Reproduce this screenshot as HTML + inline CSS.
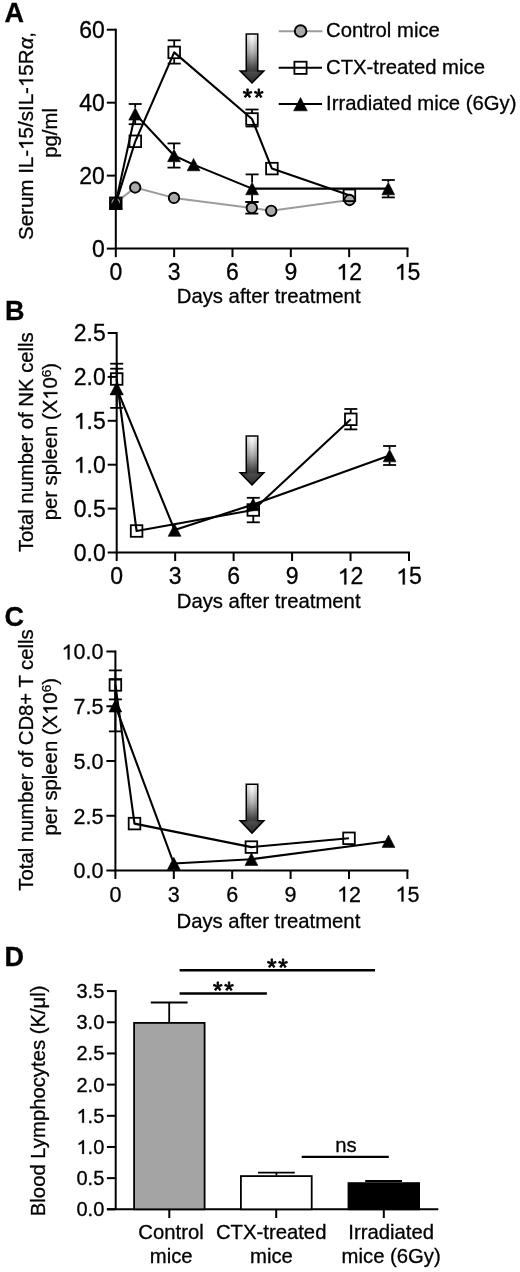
<!DOCTYPE html><html><head><meta charset="utf-8"><style>html,body{margin:0;padding:0;background:#fff;}svg{display:block;filter:blur(0.35px);}</style></head><body>
<svg width="520" height="1272" viewBox="0 0 520 1272" font-family='"Liberation Sans", sans-serif' fill="#000" stroke-width="0"><style>text{stroke:#000;stroke-width:0.3px;}</style>
<defs><linearGradient id="ag" x1="0" y1="0" x2="0" y2="1"><stop offset="0" stop-color="#ffffff"/><stop offset="0.1" stop-color="#f6f6f6"/><stop offset="0.38" stop-color="#b4b4b4"/><stop offset="0.7" stop-color="#4a4a4a"/><stop offset="1" stop-color="#151515"/></linearGradient><linearGradient id="ah" x1="0" y1="0" x2="1" y2="0"><stop offset="0" stop-color="#000" stop-opacity="0.16"/><stop offset="0.5" stop-color="#000" stop-opacity="0"/><stop offset="1" stop-color="#000" stop-opacity="0.16"/></linearGradient><linearGradient id="ah2" x1="0" y1="0" x2="1" y2="0"><stop offset="0" stop-color="#000" stop-opacity="0.25"/><stop offset="0.5" stop-color="#fff" stop-opacity="0.08"/><stop offset="1" stop-color="#000" stop-opacity="0.25"/></linearGradient></defs>
<rect width="520" height="1272" fill="#fff"/>
<text x="4.50" y="22.30" font-size="27" text-anchor="start" font-weight="bold" >A</text>
<line x1="115.80" y1="28.70" x2="115.80" y2="257.10" stroke="#000" stroke-width="2.0" stroke-linecap="butt"/>
<line x1="114.80" y1="248.60" x2="408.50" y2="248.60" stroke="#000" stroke-width="2.0" stroke-linecap="butt"/>
<line x1="106.80" y1="248.60" x2="115.80" y2="248.60" stroke="#000" stroke-width="2.0" stroke-linecap="butt"/>
<text x="104.80" y="256.65" font-size="23" text-anchor="end" font-weight="normal" >0</text>
<line x1="106.80" y1="175.63" x2="115.80" y2="175.63" stroke="#000" stroke-width="2.0" stroke-linecap="butt"/>
<text x="104.80" y="183.68" font-size="23" text-anchor="end" font-weight="normal" >20</text>
<line x1="106.80" y1="102.67" x2="115.80" y2="102.67" stroke="#000" stroke-width="2.0" stroke-linecap="butt"/>
<text x="104.80" y="110.72" font-size="23" text-anchor="end" font-weight="normal" >40</text>
<line x1="106.80" y1="29.70" x2="115.80" y2="29.70" stroke="#000" stroke-width="2.0" stroke-linecap="butt"/>
<text x="104.80" y="37.75" font-size="23" text-anchor="end" font-weight="normal" >60</text>
<text x="115.80" y="279.80" font-size="23" text-anchor="middle" font-weight="normal" >0</text>
<line x1="174.14" y1="248.60" x2="174.14" y2="257.10" stroke="#000" stroke-width="2.0" stroke-linecap="butt"/>
<text x="174.14" y="279.80" font-size="23" text-anchor="middle" font-weight="normal" >3</text>
<line x1="232.48" y1="248.60" x2="232.48" y2="257.10" stroke="#000" stroke-width="2.0" stroke-linecap="butt"/>
<text x="232.48" y="279.80" font-size="23" text-anchor="middle" font-weight="normal" >6</text>
<line x1="290.82" y1="248.60" x2="290.82" y2="257.10" stroke="#000" stroke-width="2.0" stroke-linecap="butt"/>
<text x="290.82" y="279.80" font-size="23" text-anchor="middle" font-weight="normal" >9</text>
<line x1="349.16" y1="248.60" x2="349.16" y2="257.10" stroke="#000" stroke-width="2.0" stroke-linecap="butt"/>
<text id="t0" x="349.16" y="279.80" font-size="23" text-anchor="middle" font-weight="normal" > 2</text>
<line x1="407.50" y1="248.60" x2="407.50" y2="257.10" stroke="#000" stroke-width="2.0" stroke-linecap="butt"/>
<text id="t1" x="407.50" y="279.80" font-size="23" text-anchor="middle" font-weight="normal" > 5</text>
<text x="268.65" y="302.60" font-size="20.3" text-anchor="middle" font-weight="normal" >Days after treatment</text>
<text id="t2" transform="translate(33.1,136.0) rotate(-90)" x="0.00" y="0.00" font-size="20.55" text-anchor="middle" font-weight="normal" >Serum IL- 5/sIL- 5R<tspan font-style="italic">&#945;</tspan>,</text>
<text transform="translate(56.6,132.9) rotate(-90)" x="0.00" y="0.00" font-size="20.3" text-anchor="middle" font-weight="normal" >pg/ml</text>
<polyline points="115.80,202.60 135.20,187.50 174.00,197.90 251.80,207.90 271.20,210.80 349.60,200.00" fill="none" stroke="#9c9c9c" stroke-width="2.0" stroke-linejoin="round"/>
<polyline points="115.80,203.30 135.30,141.30 174.20,52.40 252.00,119.00 271.90,168.60 349.40,195.30" fill="none" stroke="#000" stroke-width="2.1" stroke-linejoin="round"/>
<polyline points="115.80,202.60 135.20,113.90 174.00,155.50 193.60,164.60 252.10,188.60 388.30,188.60" fill="none" stroke="#000" stroke-width="2.1" stroke-linejoin="round"/>
<line x1="251.80" y1="201.90" x2="251.80" y2="202.70" stroke="#000" stroke-width="1.8" stroke-linecap="butt"/>
<line x1="251.80" y1="213.10" x2="251.80" y2="213.60" stroke="#000" stroke-width="1.8" stroke-linecap="butt"/>
<line x1="245.30" y1="201.90" x2="258.30" y2="201.90" stroke="#000" stroke-width="1.8" stroke-linecap="butt"/>
<line x1="245.30" y1="213.60" x2="258.30" y2="213.60" stroke="#000" stroke-width="1.8" stroke-linecap="butt"/>
<circle cx="115.80" cy="202.60" r="5.2" fill="#a9a9a9" stroke="#000" stroke-width="1.9"/>
<circle cx="135.20" cy="187.50" r="5.2" fill="#a9a9a9" stroke="#000" stroke-width="1.9"/>
<circle cx="174.00" cy="197.90" r="5.2" fill="#a9a9a9" stroke="#000" stroke-width="1.9"/>
<circle cx="251.80" cy="207.90" r="5.2" fill="#a9a9a9" stroke="#000" stroke-width="1.9"/>
<circle cx="271.20" cy="210.80" r="5.2" fill="#a9a9a9" stroke="#000" stroke-width="1.9"/>
<circle cx="349.60" cy="200.00" r="5.2" fill="#a9a9a9" stroke="#000" stroke-width="1.9"/>
<line x1="174.20" y1="40.30" x2="174.20" y2="46.60" stroke="#000" stroke-width="1.8" stroke-linecap="butt"/>
<line x1="174.20" y1="58.20" x2="174.20" y2="63.60" stroke="#000" stroke-width="1.8" stroke-linecap="butt"/>
<line x1="167.70" y1="40.30" x2="180.70" y2="40.30" stroke="#000" stroke-width="1.8" stroke-linecap="butt"/>
<line x1="167.70" y1="63.60" x2="180.70" y2="63.60" stroke="#000" stroke-width="1.8" stroke-linecap="butt"/>
<line x1="252.00" y1="109.50" x2="252.00" y2="113.20" stroke="#000" stroke-width="1.8" stroke-linecap="butt"/>
<line x1="252.00" y1="124.80" x2="252.00" y2="126.50" stroke="#000" stroke-width="1.8" stroke-linecap="butt"/>
<line x1="245.50" y1="109.50" x2="258.50" y2="109.50" stroke="#000" stroke-width="1.8" stroke-linecap="butt"/>
<line x1="245.50" y1="126.50" x2="258.50" y2="126.50" stroke="#000" stroke-width="1.8" stroke-linecap="butt"/>
<rect x="110.00" y="197.50" width="11.6" height="11.6" fill="none" stroke="#000" stroke-width="1.8"/>
<rect x="129.50" y="135.50" width="11.6" height="11.6" fill="none" stroke="#000" stroke-width="1.8"/>
<rect x="168.40" y="46.60" width="11.6" height="11.6" fill="none" stroke="#000" stroke-width="1.8"/>
<rect x="246.20" y="113.20" width="11.6" height="11.6" fill="none" stroke="#000" stroke-width="1.8"/>
<rect x="266.10" y="162.80" width="11.6" height="11.6" fill="none" stroke="#000" stroke-width="1.8"/>
<rect x="343.60" y="189.50" width="11.6" height="11.6" fill="none" stroke="#000" stroke-width="1.8"/>
<line x1="135.20" y1="104.00" x2="135.20" y2="107.70" stroke="#000" stroke-width="1.8" stroke-linecap="butt"/>
<line x1="135.20" y1="120.10" x2="135.20" y2="124.20" stroke="#000" stroke-width="1.8" stroke-linecap="butt"/>
<line x1="128.70" y1="104.00" x2="141.70" y2="104.00" stroke="#000" stroke-width="1.8" stroke-linecap="butt"/>
<line x1="128.70" y1="124.20" x2="141.70" y2="124.20" stroke="#000" stroke-width="1.8" stroke-linecap="butt"/>
<line x1="174.00" y1="143.40" x2="174.00" y2="149.30" stroke="#000" stroke-width="1.8" stroke-linecap="butt"/>
<line x1="174.00" y1="161.70" x2="174.00" y2="167.60" stroke="#000" stroke-width="1.8" stroke-linecap="butt"/>
<line x1="167.50" y1="143.40" x2="180.50" y2="143.40" stroke="#000" stroke-width="1.8" stroke-linecap="butt"/>
<line x1="167.50" y1="167.60" x2="180.50" y2="167.60" stroke="#000" stroke-width="1.8" stroke-linecap="butt"/>
<line x1="252.10" y1="174.40" x2="252.10" y2="182.40" stroke="#000" stroke-width="1.8" stroke-linecap="butt"/>
<line x1="252.10" y1="194.80" x2="252.10" y2="202.00" stroke="#000" stroke-width="1.8" stroke-linecap="butt"/>
<line x1="245.60" y1="174.40" x2="258.60" y2="174.40" stroke="#000" stroke-width="1.8" stroke-linecap="butt"/>
<line x1="245.60" y1="202.00" x2="258.60" y2="202.00" stroke="#000" stroke-width="1.8" stroke-linecap="butt"/>
<line x1="388.30" y1="180.00" x2="388.30" y2="182.40" stroke="#000" stroke-width="1.8" stroke-linecap="butt"/>
<line x1="388.30" y1="194.80" x2="388.30" y2="197.40" stroke="#000" stroke-width="1.8" stroke-linecap="butt"/>
<line x1="381.80" y1="180.00" x2="394.80" y2="180.00" stroke="#000" stroke-width="1.8" stroke-linecap="butt"/>
<line x1="381.80" y1="197.40" x2="394.80" y2="197.40" stroke="#000" stroke-width="1.8" stroke-linecap="butt"/>
<polygon points="115.80,196.40 122.20,208.80 109.40,208.80" fill="#000" stroke="#000" stroke-width="0.6" stroke-linejoin="miter"/>
<polygon points="135.20,107.70 141.60,120.10 128.80,120.10" fill="#000" stroke="#000" stroke-width="0.6" stroke-linejoin="miter"/>
<polygon points="174.00,149.30 180.40,161.70 167.60,161.70" fill="#000" stroke="#000" stroke-width="0.6" stroke-linejoin="miter"/>
<polygon points="193.60,158.40 200.00,170.80 187.20,170.80" fill="#000" stroke="#000" stroke-width="0.6" stroke-linejoin="miter"/>
<polygon points="252.10,182.40 258.50,194.80 245.70,194.80" fill="#000" stroke="#000" stroke-width="0.6" stroke-linejoin="miter"/>
<polygon points="388.30,182.40 394.70,194.80 381.90,194.80" fill="#000" stroke="#000" stroke-width="0.6" stroke-linejoin="miter"/>
<polygon points="246.25,33.95 257.75,33.95 257.75,70.90 263.85,70.90 252.00,83.00 240.15,70.90 246.25,70.90" fill="url(#ag)" stroke="#000" stroke-width="1.5" stroke-linejoin="miter"/>
<rect x="247.00" y="34.70" width="10.00" height="36.20" fill="url(#ah)"/>
<polygon points="241.95,71.65 262.05,71.65 252.00,81.40" fill="url(#ah2)"/>
<text x="247.40" y="105.68" font-size="24.5" text-anchor="middle" font-weight="500" style="stroke-width:0.8px;stroke-linejoin:round">*</text>
<text x="258.80" y="105.68" font-size="24.5" text-anchor="middle" font-weight="500" style="stroke-width:0.8px;stroke-linejoin:round">*</text>
<line x1="278.70" y1="31.20" x2="322.50" y2="31.20" stroke="#9c9c9c" stroke-width="1.9" stroke-linecap="butt"/>
<circle cx="300.60" cy="31.10" r="5.8" fill="#a9a9a9" stroke="#000" stroke-width="1.9"/>
<text x="326.00" y="36.70" font-size="20.3" text-anchor="start" font-weight="normal" >Control mice</text>
<line x1="278.70" y1="67.70" x2="322.00" y2="67.70" stroke="#000" stroke-width="2.0" stroke-linecap="butt"/>
<rect x="294.40" y="61.70" width="12.2" height="12.2" fill="none" stroke="#000" stroke-width="1.8"/>
<text x="326.00" y="73.50" font-size="20.3" text-anchor="start" font-weight="normal" >CTX-treated mice</text>
<line x1="278.70" y1="104.00" x2="322.00" y2="104.00" stroke="#000" stroke-width="2.0" stroke-linecap="butt"/>
<polygon points="300.50,97.60 307.30,110.80 293.70,110.80" fill="#000" stroke="#000" stroke-width="0.6" stroke-linejoin="miter"/>
<text x="326.00" y="109.80" font-size="20.3" text-anchor="start" font-weight="normal" >Irradiated mice (6Gy)</text>
<text x="5.00" y="320.00" font-size="27" text-anchor="start" font-weight="bold" >B</text>
<line x1="116.70" y1="332.00" x2="116.70" y2="561.00" stroke="#000" stroke-width="2.0" stroke-linecap="butt"/>
<line x1="115.70" y1="552.50" x2="410.00" y2="552.50" stroke="#000" stroke-width="2.0" stroke-linecap="butt"/>
<line x1="107.70" y1="552.50" x2="116.70" y2="552.50" stroke="#000" stroke-width="2.0" stroke-linecap="butt"/>
<text x="105.70" y="560.55" font-size="23" text-anchor="end" font-weight="normal" >0.0</text>
<line x1="107.70" y1="508.60" x2="116.70" y2="508.60" stroke="#000" stroke-width="2.0" stroke-linecap="butt"/>
<text x="105.70" y="516.65" font-size="23" text-anchor="end" font-weight="normal" >0.5</text>
<line x1="107.70" y1="464.70" x2="116.70" y2="464.70" stroke="#000" stroke-width="2.0" stroke-linecap="butt"/>
<text id="t3" x="105.70" y="472.75" font-size="23" text-anchor="end" font-weight="normal" > .0</text>
<line x1="107.70" y1="420.80" x2="116.70" y2="420.80" stroke="#000" stroke-width="2.0" stroke-linecap="butt"/>
<text id="t4" x="105.70" y="428.85" font-size="23" text-anchor="end" font-weight="normal" > .5</text>
<line x1="107.70" y1="376.90" x2="116.70" y2="376.90" stroke="#000" stroke-width="2.0" stroke-linecap="butt"/>
<text x="105.70" y="384.95" font-size="23" text-anchor="end" font-weight="normal" >2.0</text>
<line x1="107.70" y1="333.00" x2="116.70" y2="333.00" stroke="#000" stroke-width="2.0" stroke-linecap="butt"/>
<text x="105.70" y="341.05" font-size="23" text-anchor="end" font-weight="normal" >2.5</text>
<text x="116.70" y="584.40" font-size="23" text-anchor="middle" font-weight="normal" >0</text>
<line x1="175.16" y1="552.50" x2="175.16" y2="561.00" stroke="#000" stroke-width="2.0" stroke-linecap="butt"/>
<text x="175.16" y="584.40" font-size="23" text-anchor="middle" font-weight="normal" >3</text>
<line x1="233.62" y1="552.50" x2="233.62" y2="561.00" stroke="#000" stroke-width="2.0" stroke-linecap="butt"/>
<text x="233.62" y="584.40" font-size="23" text-anchor="middle" font-weight="normal" >6</text>
<line x1="292.08" y1="552.50" x2="292.08" y2="561.00" stroke="#000" stroke-width="2.0" stroke-linecap="butt"/>
<text x="292.08" y="584.40" font-size="23" text-anchor="middle" font-weight="normal" >9</text>
<line x1="350.54" y1="552.50" x2="350.54" y2="561.00" stroke="#000" stroke-width="2.0" stroke-linecap="butt"/>
<text id="t5" x="350.54" y="584.40" font-size="23" text-anchor="middle" font-weight="normal" > 2</text>
<line x1="409.00" y1="552.50" x2="409.00" y2="561.00" stroke="#000" stroke-width="2.0" stroke-linecap="butt"/>
<text id="t6" x="409.00" y="584.40" font-size="23" text-anchor="middle" font-weight="normal" > 5</text>
<text x="268.65" y="607.60" font-size="20.3" text-anchor="middle" font-weight="normal" >Days after treatment</text>
<text transform="translate(33.2,442.2) rotate(-90)" x="0.00" y="0.00" font-size="20.3" text-anchor="middle" font-weight="normal" >Total number of NK cells</text>
<text id="t7" transform="translate(57.4,441.6) rotate(-90)" x="0.00" y="0.00" font-size="20.3" text-anchor="middle" font-weight="normal" >per spleen (X 0<tspan font-size="13.5" dy="-6">6</tspan><tspan dy="6">)</tspan></text>
<polyline points="116.70,379.00 136.60,531.00 253.30,510.00 350.80,419.30" fill="none" stroke="#000" stroke-width="2.1" stroke-linejoin="round"/>
<polyline points="116.70,388.30 174.60,530.10 253.10,504.50 389.60,455.60" fill="none" stroke="#000" stroke-width="2.1" stroke-linejoin="round"/>
<line x1="116.70" y1="363.70" x2="116.70" y2="373.20" stroke="#000" stroke-width="1.8" stroke-linecap="butt"/>
<line x1="116.70" y1="384.80" x2="116.70" y2="394.30" stroke="#000" stroke-width="1.8" stroke-linecap="butt"/>
<line x1="110.20" y1="363.70" x2="123.20" y2="363.70" stroke="#000" stroke-width="1.8" stroke-linecap="butt"/>
<line x1="110.20" y1="394.30" x2="123.20" y2="394.30" stroke="#000" stroke-width="1.8" stroke-linecap="butt"/>
<line x1="253.30" y1="497.80" x2="253.30" y2="504.20" stroke="#000" stroke-width="1.8" stroke-linecap="butt"/>
<line x1="253.30" y1="515.80" x2="253.30" y2="522.30" stroke="#000" stroke-width="1.8" stroke-linecap="butt"/>
<line x1="246.80" y1="497.80" x2="259.80" y2="497.80" stroke="#000" stroke-width="1.8" stroke-linecap="butt"/>
<line x1="246.80" y1="522.30" x2="259.80" y2="522.30" stroke="#000" stroke-width="1.8" stroke-linecap="butt"/>
<line x1="350.80" y1="409.00" x2="350.80" y2="413.50" stroke="#000" stroke-width="1.8" stroke-linecap="butt"/>
<line x1="350.80" y1="425.10" x2="350.80" y2="429.40" stroke="#000" stroke-width="1.8" stroke-linecap="butt"/>
<line x1="344.30" y1="409.00" x2="357.30" y2="409.00" stroke="#000" stroke-width="1.8" stroke-linecap="butt"/>
<line x1="344.30" y1="429.40" x2="357.30" y2="429.40" stroke="#000" stroke-width="1.8" stroke-linecap="butt"/>
<rect x="110.90" y="373.20" width="11.6" height="11.6" fill="none" stroke="#000" stroke-width="1.8"/>
<rect x="130.80" y="525.20" width="11.6" height="11.6" fill="none" stroke="#000" stroke-width="1.8"/>
<rect x="247.50" y="504.20" width="11.6" height="11.6" fill="none" stroke="#000" stroke-width="1.8"/>
<rect x="345.00" y="413.50" width="11.6" height="11.6" fill="none" stroke="#000" stroke-width="1.8"/>
<line x1="116.70" y1="368.70" x2="116.70" y2="382.10" stroke="#000" stroke-width="1.8" stroke-linecap="butt"/>
<line x1="116.70" y1="394.50" x2="116.70" y2="407.90" stroke="#000" stroke-width="1.8" stroke-linecap="butt"/>
<line x1="110.20" y1="368.70" x2="123.20" y2="368.70" stroke="#000" stroke-width="1.8" stroke-linecap="butt"/>
<line x1="110.20" y1="407.90" x2="123.20" y2="407.90" stroke="#000" stroke-width="1.8" stroke-linecap="butt"/>
<line x1="389.60" y1="446.00" x2="389.60" y2="449.40" stroke="#000" stroke-width="1.8" stroke-linecap="butt"/>
<line x1="389.60" y1="461.80" x2="389.60" y2="465.00" stroke="#000" stroke-width="1.8" stroke-linecap="butt"/>
<line x1="383.10" y1="446.00" x2="396.10" y2="446.00" stroke="#000" stroke-width="1.8" stroke-linecap="butt"/>
<line x1="383.10" y1="465.00" x2="396.10" y2="465.00" stroke="#000" stroke-width="1.8" stroke-linecap="butt"/>
<polygon points="116.70,382.10 123.10,394.50 110.30,394.50" fill="#000" stroke="#000" stroke-width="0.6" stroke-linejoin="miter"/>
<polygon points="174.60,523.90 181.00,536.30 168.20,536.30" fill="#000" stroke="#000" stroke-width="0.6" stroke-linejoin="miter"/>
<polygon points="253.10,498.30 259.50,510.70 246.70,510.70" fill="#000" stroke="#000" stroke-width="0.6" stroke-linejoin="miter"/>
<polygon points="389.60,449.40 396.00,461.80 383.20,461.80" fill="#000" stroke="#000" stroke-width="0.6" stroke-linejoin="miter"/>
<polygon points="246.25,435.95 257.75,435.95 257.75,472.80 263.85,472.80 252.00,485.00 240.15,472.80 246.25,472.80" fill="url(#ag)" stroke="#000" stroke-width="1.5" stroke-linejoin="miter"/>
<rect x="247.00" y="436.70" width="10.00" height="36.10" fill="url(#ah)"/>
<polygon points="241.95,473.55 262.05,473.55 252.00,483.40" fill="url(#ah2)"/>
<text x="4.50" y="626.00" font-size="27" text-anchor="start" font-weight="bold" >C</text>
<line x1="115.40" y1="650.50" x2="115.40" y2="879.00" stroke="#000" stroke-width="2.0" stroke-linecap="butt"/>
<line x1="114.40" y1="870.50" x2="408.40" y2="870.50" stroke="#000" stroke-width="2.0" stroke-linecap="butt"/>
<line x1="106.40" y1="870.50" x2="115.40" y2="870.50" stroke="#000" stroke-width="2.0" stroke-linecap="butt"/>
<text x="103.40" y="878.42" font-size="21.5" text-anchor="end" font-weight="normal" >0.0</text>
<line x1="106.40" y1="815.75" x2="115.40" y2="815.75" stroke="#000" stroke-width="2.0" stroke-linecap="butt"/>
<text x="103.40" y="823.67" font-size="21.5" text-anchor="end" font-weight="normal" >2.5</text>
<line x1="106.40" y1="761.00" x2="115.40" y2="761.00" stroke="#000" stroke-width="2.0" stroke-linecap="butt"/>
<text x="103.40" y="768.92" font-size="21.5" text-anchor="end" font-weight="normal" >5.0</text>
<line x1="106.40" y1="706.25" x2="115.40" y2="706.25" stroke="#000" stroke-width="2.0" stroke-linecap="butt"/>
<text x="103.40" y="714.17" font-size="21.5" text-anchor="end" font-weight="normal" >7.5</text>
<line x1="106.40" y1="651.50" x2="115.40" y2="651.50" stroke="#000" stroke-width="2.0" stroke-linecap="butt"/>
<text id="t8" x="103.40" y="659.42" font-size="21.5" text-anchor="end" font-weight="normal" > 0.0</text>
<text x="115.40" y="901.50" font-size="21.5" text-anchor="middle" font-weight="normal" >0</text>
<line x1="173.80" y1="870.50" x2="173.80" y2="879.00" stroke="#000" stroke-width="2.0" stroke-linecap="butt"/>
<text x="173.80" y="901.50" font-size="21.5" text-anchor="middle" font-weight="normal" >3</text>
<line x1="232.20" y1="870.50" x2="232.20" y2="879.00" stroke="#000" stroke-width="2.0" stroke-linecap="butt"/>
<text x="232.20" y="901.50" font-size="21.5" text-anchor="middle" font-weight="normal" >6</text>
<line x1="290.60" y1="870.50" x2="290.60" y2="879.00" stroke="#000" stroke-width="2.0" stroke-linecap="butt"/>
<text x="290.60" y="901.50" font-size="21.5" text-anchor="middle" font-weight="normal" >9</text>
<line x1="349.00" y1="870.50" x2="349.00" y2="879.00" stroke="#000" stroke-width="2.0" stroke-linecap="butt"/>
<text id="t9" x="349.00" y="901.50" font-size="21.5" text-anchor="middle" font-weight="normal" > 2</text>
<line x1="407.40" y1="870.50" x2="407.40" y2="879.00" stroke="#000" stroke-width="2.0" stroke-linecap="butt"/>
<text id="t10" x="407.40" y="901.50" font-size="21.5" text-anchor="middle" font-weight="normal" > 5</text>
<text x="268.40" y="927.60" font-size="20.3" text-anchor="middle" font-weight="normal" >Days after treatment</text>
<text transform="translate(32.6,760.0) rotate(-90)" x="0.00" y="0.00" font-size="20.3" text-anchor="middle" font-weight="normal" >Total number of CD8+ T cells</text>
<text id="t11" transform="translate(57.2,756.8) rotate(-90)" x="0.00" y="0.00" font-size="20.3" text-anchor="middle" font-weight="normal" >per spleen (X 0<tspan font-size="13.5" dy="-6">6</tspan><tspan dy="6">)</tspan></text>
<polyline points="115.40,684.90 134.50,823.60 251.40,847.10 349.00,838.30" fill="none" stroke="#000" stroke-width="2.1" stroke-linejoin="round"/>
<polyline points="115.40,705.80 173.80,863.50 251.40,859.20 388.50,841.20" fill="none" stroke="#000" stroke-width="2.1" stroke-linejoin="round"/>
<line x1="115.40" y1="670.40" x2="115.40" y2="679.10" stroke="#000" stroke-width="1.8" stroke-linecap="butt"/>
<line x1="115.40" y1="690.70" x2="115.40" y2="699.40" stroke="#000" stroke-width="1.8" stroke-linecap="butt"/>
<line x1="108.90" y1="670.40" x2="121.90" y2="670.40" stroke="#000" stroke-width="1.8" stroke-linecap="butt"/>
<line x1="108.90" y1="699.40" x2="121.90" y2="699.40" stroke="#000" stroke-width="1.8" stroke-linecap="butt"/>
<rect x="109.60" y="679.10" width="11.6" height="11.6" fill="none" stroke="#000" stroke-width="1.8"/>
<rect x="128.70" y="817.80" width="11.6" height="11.6" fill="none" stroke="#000" stroke-width="1.8"/>
<rect x="245.60" y="841.30" width="11.6" height="11.6" fill="none" stroke="#000" stroke-width="1.8"/>
<rect x="343.20" y="832.50" width="11.6" height="11.6" fill="none" stroke="#000" stroke-width="1.8"/>
<line x1="115.40" y1="679.60" x2="115.40" y2="699.60" stroke="#000" stroke-width="1.8" stroke-linecap="butt"/>
<line x1="115.40" y1="712.00" x2="115.40" y2="731.40" stroke="#000" stroke-width="1.8" stroke-linecap="butt"/>
<line x1="108.90" y1="679.60" x2="121.90" y2="679.60" stroke="#000" stroke-width="1.8" stroke-linecap="butt"/>
<line x1="108.90" y1="731.40" x2="121.90" y2="731.40" stroke="#000" stroke-width="1.8" stroke-linecap="butt"/>
<polygon points="115.40,699.60 121.80,712.00 109.00,712.00" fill="#000" stroke="#000" stroke-width="0.6" stroke-linejoin="miter"/>
<polygon points="173.80,857.30 180.20,869.70 167.40,869.70" fill="#000" stroke="#000" stroke-width="0.6" stroke-linejoin="miter"/>
<polygon points="251.40,853.00 257.80,865.40 245.00,865.40" fill="#000" stroke="#000" stroke-width="0.6" stroke-linejoin="miter"/>
<polygon points="388.50,835.00 394.90,847.40 382.10,847.40" fill="#000" stroke="#000" stroke-width="0.6" stroke-linejoin="miter"/>
<polygon points="246.25,784.15 257.75,784.15 257.75,820.80 263.85,820.80 252.00,833.20 240.15,820.80 246.25,820.80" fill="url(#ag)" stroke="#000" stroke-width="1.5" stroke-linejoin="miter"/>
<rect x="247.00" y="784.90" width="10.00" height="35.90" fill="url(#ah)"/>
<polygon points="241.95,821.55 262.05,821.55 252.00,831.60" fill="url(#ah2)"/>
<text x="4.50" y="965.80" font-size="27" text-anchor="start" font-weight="bold" >D</text>
<line x1="115.70" y1="990.10" x2="115.70" y2="1209.30" stroke="#000" stroke-width="2.0" stroke-linecap="butt"/>
<line x1="106.90" y1="1209.30" x2="438.30" y2="1209.30" stroke="#000" stroke-width="2.0" stroke-linecap="butt"/>
<line x1="106.90" y1="1209.30" x2="115.70" y2="1209.30" stroke="#000" stroke-width="2.0" stroke-linecap="butt"/>
<text x="104.30" y="1216.30" font-size="20" text-anchor="end" font-weight="normal" >0.0</text>
<line x1="106.90" y1="1178.13" x2="115.70" y2="1178.13" stroke="#000" stroke-width="2.0" stroke-linecap="butt"/>
<text x="104.30" y="1185.13" font-size="20" text-anchor="end" font-weight="normal" >0.5</text>
<line x1="106.90" y1="1146.96" x2="115.70" y2="1146.96" stroke="#000" stroke-width="2.0" stroke-linecap="butt"/>
<text id="t12" x="104.30" y="1153.96" font-size="20" text-anchor="end" font-weight="normal" > .0</text>
<line x1="106.90" y1="1115.79" x2="115.70" y2="1115.79" stroke="#000" stroke-width="2.0" stroke-linecap="butt"/>
<text id="t13" x="104.30" y="1122.79" font-size="20" text-anchor="end" font-weight="normal" > .5</text>
<line x1="106.90" y1="1084.61" x2="115.70" y2="1084.61" stroke="#000" stroke-width="2.0" stroke-linecap="butt"/>
<text x="104.30" y="1091.61" font-size="20" text-anchor="end" font-weight="normal" >2.0</text>
<line x1="106.90" y1="1053.44" x2="115.70" y2="1053.44" stroke="#000" stroke-width="2.0" stroke-linecap="butt"/>
<text x="104.30" y="1060.44" font-size="20" text-anchor="end" font-weight="normal" >2.5</text>
<line x1="106.90" y1="1022.27" x2="115.70" y2="1022.27" stroke="#000" stroke-width="2.0" stroke-linecap="butt"/>
<text x="104.30" y="1029.27" font-size="20" text-anchor="end" font-weight="normal" >3.0</text>
<line x1="106.90" y1="991.10" x2="115.70" y2="991.10" stroke="#000" stroke-width="2.0" stroke-linecap="butt"/>
<text x="104.30" y="998.10" font-size="20" text-anchor="end" font-weight="normal" >3.5</text>
<text transform="translate(44.8,1100.8) rotate(-90)" x="0.00" y="0.00" font-size="20.3" text-anchor="middle" font-weight="normal" >Blood Lymphocytes (K/&#956;l)</text>
<rect x="134.10" y="1022.90" width="70.50" height="186.40" fill="#a4a4a4" stroke="#000" stroke-width="1.8"/>
<rect x="240.90" y="1176.10" width="70.80" height="33.20" fill="#fff" stroke="#000" stroke-width="1.8"/>
<rect x="348.50" y="1183.10" width="70.60" height="26.20" fill="#000" stroke="#000" stroke-width="1.8"/>
<line x1="169.20" y1="1002.50" x2="169.20" y2="1022.00" stroke="#000" stroke-width="1.8" stroke-linecap="butt"/>
<line x1="150.80" y1="1002.50" x2="187.60" y2="1002.50" stroke="#000" stroke-width="1.8" stroke-linecap="butt"/>
<line x1="276.40" y1="1172.60" x2="276.40" y2="1175.20" stroke="#000" stroke-width="1.8" stroke-linecap="butt"/>
<line x1="258.00" y1="1172.60" x2="294.80" y2="1172.60" stroke="#000" stroke-width="1.8" stroke-linecap="butt"/>
<line x1="383.60" y1="1181.00" x2="383.60" y2="1182.20" stroke="#000" stroke-width="1.8" stroke-linecap="butt"/>
<line x1="365.20" y1="1181.00" x2="402.00" y2="1181.00" stroke="#000" stroke-width="1.8" stroke-linecap="butt"/>
<line x1="169.30" y1="1209.30" x2="169.30" y2="1218.00" stroke="#000" stroke-width="2.0" stroke-linecap="butt"/>
<line x1="276.20" y1="1209.30" x2="276.20" y2="1218.00" stroke="#000" stroke-width="2.0" stroke-linecap="butt"/>
<line x1="383.80" y1="1209.30" x2="383.80" y2="1218.00" stroke="#000" stroke-width="2.0" stroke-linecap="butt"/>
<text x="171.00" y="1238.80" font-size="20.3" text-anchor="middle" font-weight="normal" >Control</text>
<text x="171.20" y="1263.00" font-size="20.3" text-anchor="middle" font-weight="normal" >mice</text>
<text x="271.20" y="1239.10" font-size="20.3" text-anchor="middle" font-weight="normal" >CTX-treated</text>
<text x="271.50" y="1263.00" font-size="20.3" text-anchor="middle" font-weight="normal" >mice</text>
<text x="391.20" y="1238.80" font-size="20.3" text-anchor="middle" font-weight="normal" >Irradiated</text>
<text x="391.20" y="1263.00" font-size="20.3" text-anchor="middle" font-weight="normal" >mice (6Gy)</text>
<line x1="179.60" y1="970.20" x2="375.00" y2="970.20" stroke="#000" stroke-width="2.5" stroke-linecap="butt"/>
<line x1="179.60" y1="993.50" x2="266.90" y2="993.50" stroke="#000" stroke-width="2.5" stroke-linecap="butt"/>
<text x="271.80" y="976.08" font-size="24.5" text-anchor="middle" font-weight="500" style="stroke-width:0.8px;stroke-linejoin:round">*</text>
<text x="283.00" y="976.08" font-size="24.5" text-anchor="middle" font-weight="500" style="stroke-width:0.8px;stroke-linejoin:round">*</text>
<text x="217.80" y="998.58" font-size="24.5" text-anchor="middle" font-weight="500" style="stroke-width:0.8px;stroke-linejoin:round">*</text>
<text x="228.90" y="998.58" font-size="24.5" text-anchor="middle" font-weight="500" style="stroke-width:0.8px;stroke-linejoin:round">*</text>
<line x1="301.70" y1="1156.90" x2="388.80" y2="1156.90" stroke="#000" stroke-width="2.2" stroke-linecap="butt"/>
<text x="346.00" y="1152.30" font-size="20.3" text-anchor="middle" font-weight="normal" >ns</text>
<path transform="translate(336.36,279.80) scale(0.01123,-0.01123)" d="M763,0 L583,0 L583,1127 Q518,1068 422,1013 Q324,957 223,922 L223,1094 Q368,1160 474,1257 Q577,1352 622,1409 L763,1409 Z" stroke="#000" stroke-width="0.3" vector-effect="non-scaling-stroke"/>
<path transform="translate(394.70,279.80) scale(0.01123,-0.01123)" d="M763,0 L583,0 L583,1127 Q518,1068 422,1013 Q324,957 223,922 L223,1094 Q368,1160 474,1257 Q577,1352 622,1409 L763,1409 Z" stroke="#000" stroke-width="0.3" vector-effect="non-scaling-stroke"/>
<path transform="translate(33.1,136.0) rotate(-90) translate(-13.88,0.00) scale(0.01003,-0.01003)" d="M763,0 L583,0 L583,1127 Q518,1068 422,1013 Q324,957 223,922 L223,1094 Q368,1160 474,1257 Q577,1352 622,1409 L763,1409 Z" stroke="#000" stroke-width="0.3" vector-effect="non-scaling-stroke"/>
<path transform="translate(33.1,136.0) rotate(-90) translate(48.94,0.00) scale(0.01003,-0.01003)" d="M763,0 L583,0 L583,1127 Q518,1068 422,1013 Q324,957 223,922 L223,1094 Q368,1160 474,1257 Q577,1352 622,1409 L763,1409 Z" stroke="#000" stroke-width="0.3" vector-effect="non-scaling-stroke"/>
<path transform="translate(73.72,472.75) scale(0.01123,-0.01123)" d="M763,0 L583,0 L583,1127 Q518,1068 422,1013 Q324,957 223,922 L223,1094 Q368,1160 474,1257 Q577,1352 622,1409 L763,1409 Z" stroke="#000" stroke-width="0.3" vector-effect="non-scaling-stroke"/>
<path transform="translate(73.72,428.85) scale(0.01123,-0.01123)" d="M763,0 L583,0 L583,1127 Q518,1068 422,1013 Q324,957 223,922 L223,1094 Q368,1160 474,1257 Q577,1352 622,1409 L763,1409 Z" stroke="#000" stroke-width="0.3" vector-effect="non-scaling-stroke"/>
<path transform="translate(337.74,584.40) scale(0.01123,-0.01123)" d="M763,0 L583,0 L583,1127 Q518,1068 422,1013 Q324,957 223,922 L223,1094 Q368,1160 474,1257 Q577,1352 622,1409 L763,1409 Z" stroke="#000" stroke-width="0.3" vector-effect="non-scaling-stroke"/>
<path transform="translate(396.20,584.40) scale(0.01123,-0.01123)" d="M763,0 L583,0 L583,1127 Q518,1068 422,1013 Q324,957 223,922 L223,1094 Q368,1160 474,1257 Q577,1352 622,1409 L763,1409 Z" stroke="#000" stroke-width="0.3" vector-effect="non-scaling-stroke"/>
<path transform="translate(57.4,441.6) rotate(-90) translate(41.89,0.00) scale(0.00991,-0.00991)" d="M763,0 L583,0 L583,1127 Q518,1068 422,1013 Q324,957 223,922 L223,1094 Q368,1160 474,1257 Q577,1352 622,1409 L763,1409 Z" stroke="#000" stroke-width="0.3" vector-effect="non-scaling-stroke"/>
<path transform="translate(61.54,659.42) scale(0.01050,-0.01050)" d="M763,0 L583,0 L583,1127 Q518,1068 422,1013 Q324,957 223,922 L223,1094 Q368,1160 474,1257 Q577,1352 622,1409 L763,1409 Z" stroke="#000" stroke-width="0.3" vector-effect="non-scaling-stroke"/>
<path transform="translate(337.04,901.50) scale(0.01050,-0.01050)" d="M763,0 L583,0 L583,1127 Q518,1068 422,1013 Q324,957 223,922 L223,1094 Q368,1160 474,1257 Q577,1352 622,1409 L763,1409 Z" stroke="#000" stroke-width="0.3" vector-effect="non-scaling-stroke"/>
<path transform="translate(395.44,901.50) scale(0.01050,-0.01050)" d="M763,0 L583,0 L583,1127 Q518,1068 422,1013 Q324,957 223,922 L223,1094 Q368,1160 474,1257 Q577,1352 622,1409 L763,1409 Z" stroke="#000" stroke-width="0.3" vector-effect="non-scaling-stroke"/>
<path transform="translate(57.2,756.8) rotate(-90) translate(41.89,0.00) scale(0.00991,-0.00991)" d="M763,0 L583,0 L583,1127 Q518,1068 422,1013 Q324,957 223,922 L223,1094 Q368,1160 474,1257 Q577,1352 622,1409 L763,1409 Z" stroke="#000" stroke-width="0.3" vector-effect="non-scaling-stroke"/>
<path transform="translate(76.49,1153.96) scale(0.00977,-0.00977)" d="M763,0 L583,0 L583,1127 Q518,1068 422,1013 Q324,957 223,922 L223,1094 Q368,1160 474,1257 Q577,1352 622,1409 L763,1409 Z" stroke="#000" stroke-width="0.3" vector-effect="non-scaling-stroke"/>
<path transform="translate(76.49,1122.79) scale(0.00977,-0.00977)" d="M763,0 L583,0 L583,1127 Q518,1068 422,1013 Q324,957 223,922 L223,1094 Q368,1160 474,1257 Q577,1352 622,1409 L763,1409 Z" stroke="#000" stroke-width="0.3" vector-effect="non-scaling-stroke"/>
</svg></body></html>
